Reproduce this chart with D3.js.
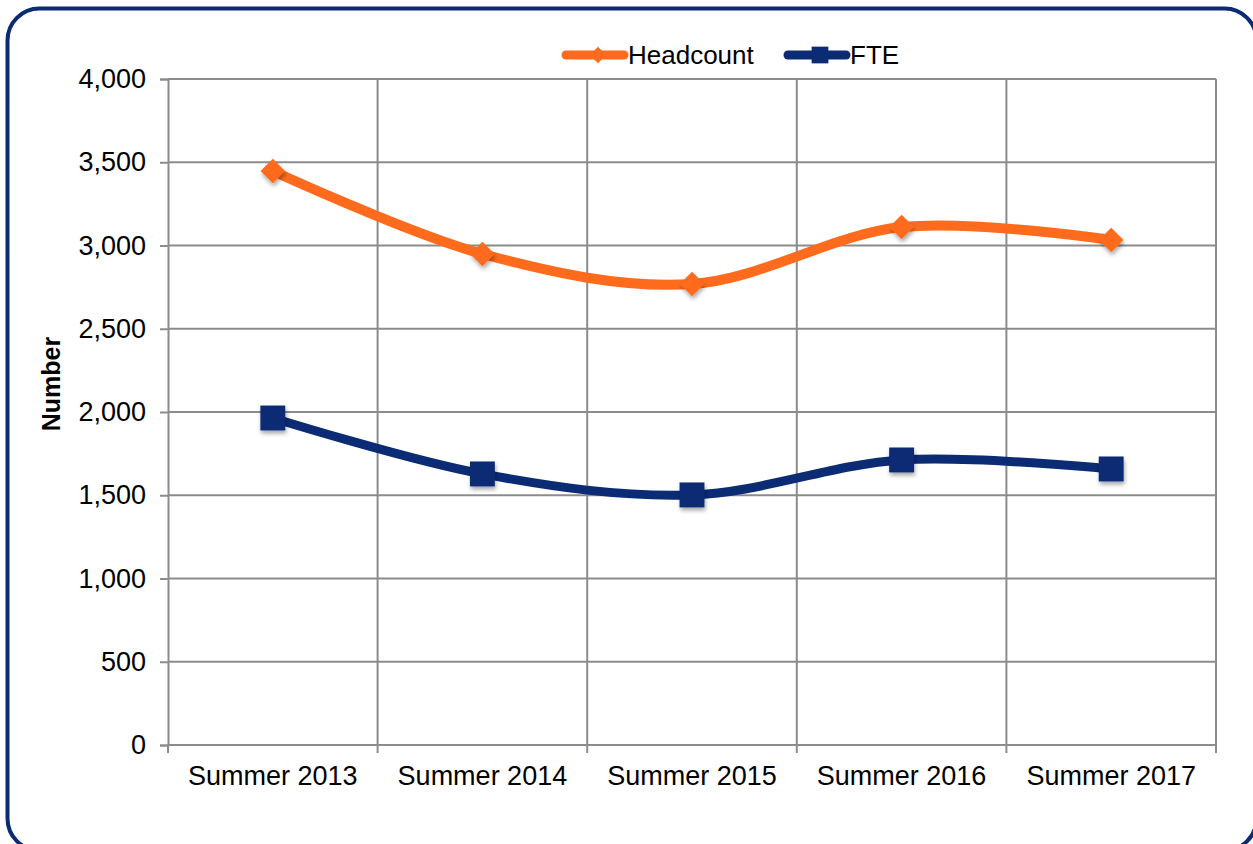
<!DOCTYPE html>
<html>
<head>
<meta charset="utf-8">
<script src="https://cdn.jsdelivr.net/npm/d3@7"></script>
<style>
  body { margin: 0; background: #fff; overflow: hidden; }
  text { font-family: "Liberation Sans", Arial, sans-serif; fill: #000; }
</style>
</head>
<body>
<svg id="chart" width="1253" height="844"></svg>
<script>
var categories = ["Summer 2013", "Summer 2014", "Summer 2015", "Summer 2016", "Summer 2017"];
var headcount = [3447, 2949, 2769, 3111, 3033];
var fte = [1964, 1628, 1502, 1712, 1658];
var yTicks = [0, 500, 1000, 1500, 2000, 2500, 3000, 3500, 4000];

var orange = "#ff6b1c", navy = "#0b2b75", grid = "#8c8c8c";

var svg = d3.select("#chart");

// rounded frame (runs off the right and bottom edges like the source)
svg.append("rect")
    .attr("x", 7.5).attr("y", 8.5)
    .attr("width", 1249).attr("height", 842)
    .attr("rx", 32).attr("ry", 32)
    .attr("fill", "#fff")
    .attr("stroke", navy)
    .attr("stroke-width", 4);

var defs = svg.append("defs");
var f = defs.append("filter").attr("id", "shadow")
    .attr("x", "-50%").attr("y", "-50%").attr("width", "200%").attr("height", "200%");
f.append("feDropShadow").attr("dx", 1).attr("dy", 3).attr("stdDeviation", 2)
    .attr("flood-color", "#000").attr("flood-opacity", 0.35);

var plotL = 168, plotR = 1216, plotT = 79, plotB = 745;

var x = d3.scaleBand().domain(categories).range([plotL, plotR]);
var y = d3.scaleLinear().domain([0, 4000]).range([plotB, plotT]);

// gridlines
svg.append("g").selectAll("line")
    .data(yTicks.slice(1))
    .enter().append("line")
    .attr("x1", plotL).attr("x2", plotR)
    .attr("y1", function(d) { return y(d); })
    .attr("y2", function(d) { return y(d); })
    .attr("stroke", grid).attr("stroke-width", 2);

var bounds = categories.map(function(c) { return x(c) + x.bandwidth(); });
svg.append("g").selectAll("line")
    .data(bounds)
    .enter().append("line")
    .attr("x1", function(d) { return d; })
    .attr("x2", function(d) { return d; })
    .attr("y1", plotT).attr("y2", plotB)
    .attr("stroke", grid).attr("stroke-width", 2);

// axes
var yAxis = svg.append("g")
    .attr("transform", "translate(" + plotL + ",0)")
    .call(d3.axisLeft(y).tickValues(yTicks).tickFormat(d3.format(",")).tickSize(8).tickPadding(14));
yAxis.select(".domain").attr("stroke", grid).attr("stroke-width", 2);
yAxis.selectAll(".tick line").attr("stroke", grid).attr("stroke-width", 2);
yAxis.selectAll(".tick text").style("font-size", "27px")
    .attr("font-family", "Liberation Sans, Arial, sans-serif").attr("fill", "#000");

var xAxis = svg.append("g")
    .attr("transform", "translate(0," + plotB + ")")
    .call(d3.axisBottom(x).tickSize(0).tickPadding(21));
xAxis.select(".domain").remove();
xAxis.append("line")
    .attr("x1", plotL).attr("x2", plotR)
    .attr("stroke", grid).attr("stroke-width", 2);
xAxis.selectAll(".tick text").style("font-size", "27px")
    .attr("font-family", "Liberation Sans, Arial, sans-serif").attr("fill", "#000");
xAxis.selectAll(".bt")
    .data([plotL].concat(bounds))
    .enter().append("line")
    .attr("x1", function(d) { return d; })
    .attr("x2", function(d) { return d; })
    .attr("y1", 0).attr("y2", 8)
    .attr("stroke", grid).attr("stroke-width", 2);

svg.append("text")
    .attr("transform", "translate(60,384) rotate(-90)")
    .attr("text-anchor", "middle")
    .style("font-size", "25px").style("font-weight", "bold")
    .text("Number");

// series
var line = d3.line()
    .x(function(d, i) { return x(categories[i]) + x.bandwidth() / 2; })
    .y(function(d) { return y(d); })
    .curve(d3.curveCatmullRom.alpha(0));

var diamond = d3.symbol().type(d3.symbolDiamond2).size(380);
var square = d3.symbol().type(d3.symbolSquare).size(620);

svg.append("path").datum(headcount)
    .attr("d", line).attr("fill", "none")
    .attr("stroke", orange).attr("stroke-width", 10)
    .attr("stroke-linecap", "round");
svg.append("g").selectAll("path")
    .data(headcount).enter().append("path")
    .attr("d", diamond)
    .attr("transform", function(d, i) { return "translate(" + (x(categories[i]) + x.bandwidth() / 2) + "," + y(d) + ")"; })
    .attr("fill", orange).attr("filter", "url(#shadow)");

svg.append("path").datum(fte)
    .attr("d", line).attr("fill", "none")
    .attr("stroke", navy).attr("stroke-width", 9)
    .attr("stroke-linecap", "round");
svg.append("g").selectAll("path")
    .data(fte).enter().append("path")
    .attr("d", square)
    .attr("transform", function(d, i) { return "translate(" + (x(categories[i]) + x.bandwidth() / 2) + "," + y(d) + ")"; })
    .attr("fill", navy).attr("filter", "url(#shadow)");

// legend
var legend = [
  { name: "Headcount", color: orange, sym: d3.symbol().type(d3.symbolDiamond2).size(170), x0: 566 },
  { name: "FTE", color: navy, sym: d3.symbol().type(d3.symbolSquare).size(280), x0: 788 }
];
var lg = svg.append("g").selectAll("g").data(legend).enter().append("g")
    .attr("transform", function(d) { return "translate(" + d.x0 + ",55)"; });
lg.append("line")
    .attr("x1", 0).attr("x2", 58)
    .attr("stroke", function(d) { return d.color; })
    .attr("stroke-width", 9).attr("stroke-linecap", "round");
lg.append("path")
    .attr("d", function(d) { return d.sym(); })
    .attr("transform", "translate(32,0)")
    .attr("fill", function(d) { return d.color; });
lg.append("text")
    .attr("x", 62).attr("y", 9)
    .style("font-size", "26px")
    .text(function(d) { return d.name; });
</script>
</body>
</html>
